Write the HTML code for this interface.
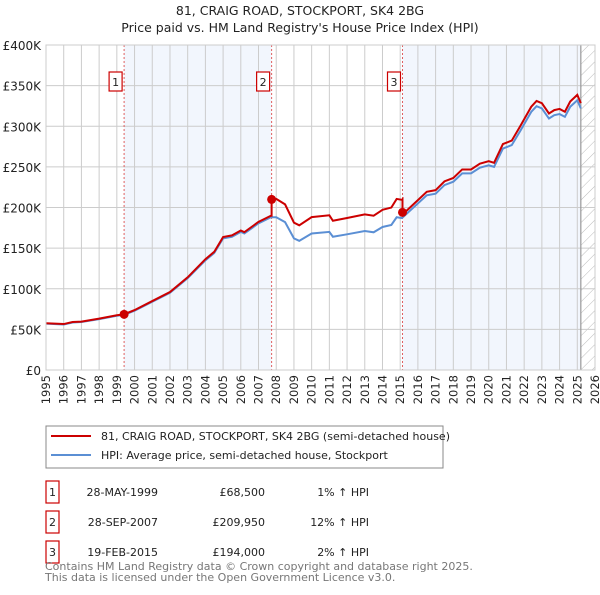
<!DOCTYPE html>
<html><head><meta charset="utf-8"><style>
body{margin:0;background:#fff;font-family:"Liberation Sans","DejaVu Sans",sans-serif;}
svg text{font-family:"DejaVu Sans","Liberation Sans",sans-serif;}
</style></head><body>
<svg id="c" width="600" height="590" xmlns="http://www.w3.org/2000/svg">
<text x="300" y="15" text-anchor="middle" font-size="12.5" fill="#222">81, CRAIG ROAD, STOCKPORT, SK4 2BG</text>
<text x="300" y="32" text-anchor="middle" font-size="12.5" fill="#222">Price paid vs. HM Land Registry's House Price Index (HPI)</text>
<g id="plot"></g>
<g>
<rect x="46" y="426" width="397" height="42" fill="#fff" stroke="#888"/>
<line x1="51" y1="436" x2="91" y2="436" stroke="#cc0000" stroke-width="2"/>
<text x="101" y="440" font-size="11" fill="#222">81, CRAIG ROAD, STOCKPORT, SK4 2BG (semi-detached house)</text>
<line x1="51" y1="455" x2="91" y2="455" stroke="#5b8fd4" stroke-width="2"/>
<text x="101" y="459" font-size="11" fill="#222">HPI: Average price, semi-detached house, Stockport</text>
</g>
<g id="tbl" font-size="11" fill="#222"></g>
<text x="45" y="570" font-size="11" fill="#777">Contains HM Land Registry data © Crown copyright and database right 2025.</text>
<text x="45" y="581" font-size="11" fill="#777">This data is licensed under the Open Government Licence v3.0.</text>
</svg>
<script>
const yearTicks=[1995,1996,1997,1998,1999,2000,2001,2002,2003,2004,2005,2006,2007,2008,2009,2010,2011,2012,2013,2014,2015,2016,2017,2018,2019,2020,2021,2022,2023,2024,2025,2026];
const valueTicks=[0,50000,100000,150000,200000,250000,300000,350000,400000];
const valueTickLabels=["£0","£50K","£100K","£150K","£200K","£250K","£300K","£350K","£400K"];
const hpiYears=[1995,1996,1996.5,1997,1998,1999,1999.4,2000,2001,2002,2003,2004,2004.5,2005,2005.5,2006,2006.2,2007,2007.7,2008,2008.5,2009,2009.3,2010,2011,2011.2,2012,2013,2013.5,2014,2014.5,2014.8,2015.1,2016,2016.5,2017,2017.5,2018,2018.5,2019,2019.5,2020,2020.3,2020.8,2021.3,2021.8,2022.4,2022.7,2023,2023.4,2023.7,2024,2024.3,2024.6,2025,2025.2];
const hpiValues=[57000,56000,58500,59000,62600,66700,67800,73000,84000,95000,113000,135000,144000,162000,164000,170000,168000,180500,188000,188000,182000,162000,159000,168000,170000,164000,167000,171000,169500,176000,178500,188000,187000,205000,215000,217000,227600,231700,242000,242000,249000,252000,250000,272600,276800,295000,317700,324700,322000,309500,313600,315000,311600,324000,332000,322000];
const saleLabels=["1","2","3"];
const saleYears=[1999.41,2007.74,2015.13];
const salePrices=[68500,209950,194000];
const saleDates=["28-MAY-1999","28-SEP-2007","19-FEB-2015"];
const salePriceText=["£68,500","£209,950","£194,000"];
const saleHpiText=["1% ↑ HPI","12% ↑ HPI","2% ↑ HPI"];
const saleRatios=[1.01,1.12,1.02];
const dataEnd=2025.2;

const NS="http://www.w3.org/2000/svg";
const L=46,R=595,T=45,B=370;
const X=y=>L+(y-1995)/(2026-1995)*(R-L);
const Y=v=>B-v/400000*(B-T);
const plot=document.getElementById('plot');
function mk(tag,a,parent){const e=document.createElementNS(NS,tag);for(const k in a)e.setAttribute(k,a[k]);(parent||plot).appendChild(e);return e;}

let e=mk('rect',{x:X(saleYears[0]),y:T,width:X(saleYears[1])-X(saleYears[0]),height:B-T,fill:'#f2f6fd'});


e=mk('rect',{x:X(saleYears[2]),y:T,width:X(dataEnd)-X(saleYears[2]),height:B-T,fill:'#f2f6fd'});


const defs=mk('defs',{});
const pat=mk('pattern',{id:'h',width:8,height:8,patternUnits:'userSpaceOnUse',patternTransform:'rotate(45)'},defs);
mk('line',{x1:0,y1:0,x2:0,y2:8,stroke:'#bbb','stroke-width':1},pat);
e=mk('rect',{x:X(dataEnd),y:T,width:R-X(dataEnd),height:B-T,fill:'url(#h)'});


yearTicks.forEach(y=>{const g=mk('line',{x1:X(y),x2:X(y),y1:T,y2:B,stroke:'#ccc','stroke-width':1});


const t=mk('text',{x:0,y:0,'font-size':11.5,fill:'#222','text-anchor':'end',transform:`translate(${X(y)+4},${B+5}) rotate(-90)`});t.textContent=y;

});
valueTicks.forEach((v,i)=>{const g=mk('line',{x1:L,x2:R,y1:Y(v),y2:Y(v),stroke:'#ccc','stroke-width':1});


const t=mk('text',{x:L-5,y:Y(v)+5,'font-size':12,fill:'#222','text-anchor':'end'});t.textContent=valueTickLabels[i];

});
e=mk('line',{x1:X(dataEnd),x2:X(dataEnd),y1:T,y2:B,stroke:'#999','stroke-width':1.2});


saleYears.forEach((s,i)=>{const l=mk('line',{x1:X(s),x2:X(s),y1:T,y2:B,stroke:'#e06060','stroke-dasharray':'2,2','stroke-width':1});

});
function hpiAt(y){for(let i=1;i<hpiYears.length;i++){if(y<=hpiYears[i]){const t=(y-hpiYears[i-1])/(hpiYears[i]-hpiYears[i-1]);return hpiValues[i-1]+t*(hpiValues[i]-hpiValues[i-1]);}}return hpiValues[hpiValues.length-1];}
e=mk('polyline',{points:hpiYears.map((y,i)=>X(y)+','+Y(hpiValues[i])).join(' '),fill:'none',stroke:'#5b8fd4','stroke-width':2});


function ratioAt(y){return y<saleYears[1]?saleRatios[0]:(y<saleYears[2]?saleRatios[1]:saleRatios[2]);}
const pyrs=hpiYears.concat(saleYears).concat(saleYears.map(s=>s-0.001)).sort((a,b)=>a-b);
e=mk('polyline',{points:pyrs.map(y=>X(y)+','+Y(hpiAt(y)*ratioAt(y))).join(' '),fill:'none',stroke:'#cc0000','stroke-width':2});


saleYears.forEach((s,i)=>{const c=mk('circle',{cx:X(s),cy:Y(salePrices[i]),r:4.5,fill:'#cc0000'});


const g=mk('g',{});


mk('rect',{x:X(s)-15,y:72,width:13,height:19,fill:'#fff',stroke:'#cc0000','stroke-width':1.2},g);
const t=mk('text',{x:X(s)-8.5,y:86,'font-size':11,'text-anchor':'middle',fill:'#222'},g);t.textContent=saleLabels[i];});
e=mk('rect',{x:L,y:T,width:R-L,height:B-T,fill:'none',stroke:'#ccc'});
const tbl=document.getElementById('tbl');
saleLabels.forEach((s,i)=>{const y=492+i*30;
const g=mk('g',{},tbl);


mk('rect',{x:46,y:y-11,width:13,height:22,fill:'#fff',stroke:'#cc0000','stroke-width':1.2},g);
const a=[[52.5,s,'middle'],[158,saleDates[i],'end'],[265,salePriceText[i],'end'],[369,saleHpiText[i],'end']];
a.forEach(q=>{const t=mk('text',{x:q[0],y:y+4,'text-anchor':q[2]},g);t.textContent=q[1];});});
</script>
</body></html>
